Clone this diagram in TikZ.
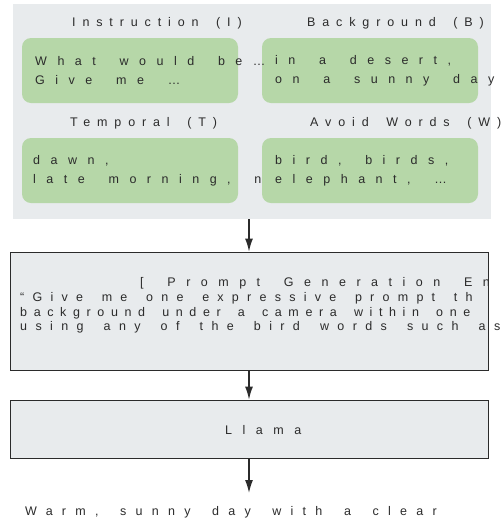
\documentclass[tikz,border=0pt]{standalone}
\usepackage{fontspec}
\setmainfont{Liberation Sans}
\newfontfamily\wide[LetterSpace=84,WordSpace=1.7]{Liberation Sans}
\newfontfamily\head[LetterSpace=55,WordSpace=1.7]{Liberation Sans}
\newfontfamily\wideA[LetterSpace=74,WordSpace=1.7]{Liberation Sans}
\newfontfamily\wideB[LetterSpace=53,WordSpace=1.7]{Liberation Sans}
\newfontfamily\wideC[LetterSpace=67,WordSpace=1.7]{Liberation Sans}
\newfontfamily\wideD[LetterSpace=66,WordSpace=1.6]{Liberation Sans}
\usepackage{tikz}
\usetikzlibrary{arrows.meta}
\definecolor{panelgray}{HTML}{E8EBED}
\definecolor{cardgreen}{HTML}{B6D7A8}
\definecolor{ink}{HTML}{2B2B2B}
\tikzset{
  panel/.style = {fill=panelgray, inner sep=0pt},
  card/.style = {fill=cardgreen, rounded corners=9pt, inner sep=0pt,
    minimum width=216pt, minimum height=65pt},% carte verte
  stage/.style = {draw=ink, fill=panelgray, line width=0.9pt, inner sep=0pt,
    minimum width=478pt},% etape du pipeline
  label/.style = {anchor=west, inner sep=0pt, text=ink, align=left,
    font=\wide\fontsize{12.5}{19}\selectfont},
  title/.style = {label, font=\head\fontsize{12.5}{19}\selectfont},
  flow/.style = {->, draw=ink, line width=1.3pt}
}

\begin{document}
\begin{tikzpicture}[x=1pt,y=-1pt,>={Latex[length=13pt,width=8pt]}]
\useasboundingbox (0,0) rectangle (504,531);
% bloc des entrees
\node [panel, minimum width=478pt, minimum height=215pt] (inputs) at (252,111.5) {};
\node [card] (instr) at (130,70.5) {};
\node [card] (backgr) at (370,70.5) {};
\node [card] (tempo) at (130,170.5) {};
\node [card] (avoid) at (370,170.5) {};
\node [title] (instrhd) at (72,23) {Instruction (I)};
\node [title] (backgrhd) at (307,23) {Background (B)};
\node [title] (tempohd) at (70,123) {Temporal (T)};
\node [title] (avoidhd) at (310,123) {Avoid Words (W)};
\node [label] (instrtx) at (35,71) {What would be…\\Give me …};
\node [label] (backgrtx) at (275,71) {in a desert,\\on a sunny day};
\node [label] (tempotx) at (33,171) {dawn,\\late morning, n};
\node [label] (avoidtx) at (275,171) {bird, birds,\\elephant, …};
% generation du prompt
\node [stage, minimum height=118pt] (engine) at (249,311) {};
\node [label] (enginehd) at (140,283) {[ Prompt Generation En};
\node [label, font=\wideD\fontsize{12.5}{15}\selectfont] (line1) at (20,298)
  {“Give me one expressive prompt th};
\node [label, font=\wideB\fontsize{12.5}{15}\selectfont] (line2) at (20,313)
  {background under a camera within one};
\node [label, font=\wideC\fontsize{12.5}{15}\selectfont] (line3) at (20,327)
  {using any of the bird words such as};
% modele
\node [stage, minimum height=58pt] (llama) at (249,429) {};
\node [label] (llamatx) at (225,430) {Llama};
\coordinate (out) at (249,493);
\node [label, font=\wideA\fontsize{12.5}{15}\selectfont] (answer) at (25,512)
  {Warm, sunny day with a clear};
\draw [flow] (inputs.south -| engine.north) -- (engine.north);
\draw [flow] (engine) -- (llama);
\draw [flow] (llama) -- (out);
\end{tikzpicture}
\end{document}
